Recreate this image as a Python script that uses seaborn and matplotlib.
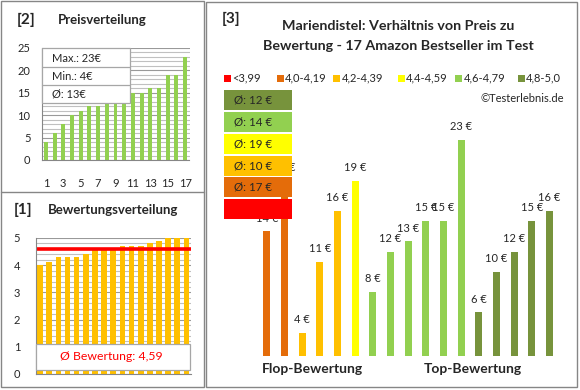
import numpy as np
import matplotlib
matplotlib.use("Agg")
import matplotlib.pyplot as plt
from matplotlib.patches import Rectangle
import seaborn as sns

# Bewertungen und Preise der 17 Produkte (sortiert nach Bewertung)
bewertungen = [4.0, 4.1, 4.3, 4.3, 4.3, 4.4, 4.6, 4.6, 4.6, 4.7, 4.7, 4.7, 4.8, 4.9, 5.0, 5.0, 5.0]
preise = [14, 19, 4, 11, 16, 19, 8, 12, 13, 15, 15, 23, 6, 10, 12, 15, 16]
preise_sortiert = [4, 6, 8, 10, 11, 12, 12, 13, 14, 15, 15, 15, 16, 16, 19, 19, 23]
preis_xlabels = ["1", "3", "5", "7", "9", "11", "13", "15", "17"]

klassen = ["<3,99", "4,0-4,19", "4,2-4,39", "4,4-4,59", "4,6-4,79", "4,8-5,0"]
klassen_grenzen = [4.0, 4.2, 4.4, 4.6, 4.8]
klassen_farben = ["#FF0000", "#E46C0A", "#FFC000", "#FFFF00", "#92D050", "#77933C"]

GRAU = "#868686"
W, H = 580, 390

sns.set_style("white")
plt.rcParams["font.family"] = ["Lato", "DejaVu Sans"]


def runden(x):
    return int(np.floor(x + 0.5))


def px_axes(l, t, r, b):
    return fig.add_axes([l / W, 1 - b / H, (r - l) / W, (b - t) / H])


klasse_pro_produkt = [klassen[int(np.digitize(b, klassen_grenzen))] for b in bewertungen]
idx = list(range(len(preise)))

fig = plt.figure(figsize=(W / 100, H / 100), dpi=100)

# ---------- [2] Preisverteilung ----------
ax2 = px_axes(41.5, 48, 189.5, 160)
sns.barplot(x=idx, y=preise_sortiert, color="#92D050", saturation=1, width=0.45,
            linewidth=0, ax=ax2)
ax2.set_xlim(-0.5, 16.5)
ax2.set_ylim(0, 25)
ax2.set_yticks(range(0, 26, 5))
ax2.set_yticks(range(0, 26), minor=True)
ax2.set_xticks(range(0, 17, 2))
ax2.set_xticklabels(preis_xlabels)
ax2.tick_params(axis="both", which="both", length=0, labelsize=8)
ax2.tick_params(axis="y", pad=8)
ax2.tick_params(axis="x", pad=13)
ax2.grid(axis="y", which="minor", color="#c0c0c0", lw=0.8)
ax2.grid(axis="y", which="major", color="#999999", lw=0.8)
ax2.set_axisbelow(True)
for s in ["top", "right"]:
    ax2.spines[s].set_visible(False)
for s in ["left", "bottom"]:
    ax2.spines[s].set_color(GRAU)
ax2.set_xlabel("")
ax2.set_ylabel("")

# ---------- [1] Bewertungsverteilung ----------
ax1 = px_axes(35.5, 238, 191, 374)
sns.barplot(x=idx, y=bewertungen, color="#FFC000", saturation=1, width=0.62,
            linewidth=0, ax=ax1)
ax1.set_xlim(-0.5, 16.5)
ax1.set_ylim(0, 5)
ax1.set_yticks(range(0, 6))
ax1.set_yticks(np.arange(0, 5.01, 0.2), minor=True)
ax1.set_xticks([])
ax1.tick_params(axis="y", which="both", length=0, labelsize=8, pad=11)
ax1.grid(axis="y", which="minor", color="#c0c0c0", lw=0.8)
ax1.grid(axis="y", which="major", color="#999999", lw=0.8)
ax1.set_axisbelow(True)
for s in ["top", "right"]:
    ax1.spines[s].set_visible(False)
for s in ["left", "bottom"]:
    ax1.spines[s].set_color(GRAU)
bew_mittel = np.mean(bewertungen)
ax1.hlines(bew_mittel, -0.45, 16.45, color="#FF0000", lw=2.6)
ax1.set_xlabel("")
ax1.set_ylabel("")

# ---------- [3] Preis vs. Bewertung ----------
ax3 = px_axes(257.9, 100, 558.2, 355.7)
sns.barplot(x=idx, y=preise, hue=klasse_pro_produkt, hue_order=klassen,
            palette=dict(zip(klassen, klassen_farben)), dodge=False, legend=False,
            saturation=1, width=0.4, linewidth=0, ax=ax3)
ax3.set_xlim(-0.5, 16.5)
ax3.set_ylim(1.74, 26.95)
ax3.axis("off")
for i, p in zip(idx, preise):
    ax3.annotate(f"{p} €", (i, p), xytext=(0, 9.6), textcoords="offset points",
                 ha="center", va="center", fontsize=8)

# ---------- Overlay: Rahmen, Titel, Boxen ----------
ov = fig.add_axes([0, 0, 1, 1])
ov.set_xlim(0, W)
ov.set_ylim(H, 0)
ov.axis("off")
ov.patch.set_alpha(0)

ov.add_patch(Rectangle((1, 1), 203, 386, fill=False, ec=GRAU, lw=1))
ov.plot([1, 204], [192, 192], color=GRAU, lw=1)
ov.add_patch(Rectangle((206, 2), 371, 385, fill=False, ec=GRAU, lw=1))

ov.text(17, 20, "[2]", fontsize=11, fontweight="bold", va="center")
ov.text(58, 20, "Preisverteilung", fontsize=9.5, fontweight="bold", va="center")
ov.text(14, 210, "[1]", fontsize=11, fontweight="bold", va="center")
ov.text(48, 210, "Bewertungsverteilung", fontsize=9.5, fontweight="bold", va="center")
ov.text(222, 19, "[3]", fontsize=11, fontweight="bold", va="center")
ov.text(398, 26, "Mariendistel: Verhältnis von Preis zu", fontsize=10.3, fontweight="bold",
        ha="center", va="center")
ov.text(398, 46, "Bewertung - 17 Amazon Bestseller im Test", fontsize=10.3, fontweight="bold",
        ha="center", va="center")

# Preis-Statistik
ov.add_patch(Rectangle((41.7, 48), 88.3, 55, fc="white", ec="#a6a6a6", lw=0.9))
ov.plot([41.7, 130], [67, 67], color="#a6a6a6", lw=0.9)
ov.plot([41.7, 130], [85, 85], color="#a6a6a6", lw=0.9)
ov.text(52, 58, f"Max.: {max(preise_sortiert)}€", fontsize=8, va="center")
ov.text(52, 76, f"Min.: {min(preise_sortiert)}€", fontsize=8, va="center")
ov.text(52, 94, f"Ø: {runden(np.mean(preise_sortiert))}€", fontsize=8, va="center")

# Bewertungs-Durchschnitt
ov.add_patch(Rectangle((35.5, 344), 154.5, 26, fc="white", ec="#a6a6a6", lw=0.9))
ov.text(111, 357, f"Ø Bewertung: {bew_mittel:.2f}".replace(".", ","), color="#FF0000",
        fontsize=8.8, ha="center", va="center")

# Legende
leg_x = [224, 276.7, 333, 397.7, 455, 517.7]
for x, k, c in zip(leg_x, klassen, klassen_farben):
    ov.add_patch(Rectangle((x, 74.5), 7, 7, fc=c, ec="none"))
    ov.text(x + 8.5, 78, k, fontsize=8, va="center")
ov.text(564, 98, "©Testerlebnis.de", fontsize=8, ha="right", va="center")

# Durchschnittspreis je Klasse
box_tops = [90, 112, 134, 156, 177, 199]
for top, k_i in zip(box_tops, range(len(klassen) - 1, -1, -1)):
    k = klassen[k_i]
    werte = [p for p, kk in zip(preise, klasse_pro_produkt) if kk == k]
    ov.add_patch(Rectangle((224, top), 68, 19.5, fc=klassen_farben[k_i], ec="none"))
    if werte:
        ov.text(234, top + 10, f"Ø: {runden(np.mean(werte))} €", fontsize=8.3, va="center")

ov.text(312, 369, "Flop-Bewertung", fontsize=10, fontweight="bold", ha="center", va="center")
ov.text(473, 369, "Top-Bewertung", fontsize=10, fontweight="bold", ha="center", va="center")

fig.savefig("out.png", dpi=100)
